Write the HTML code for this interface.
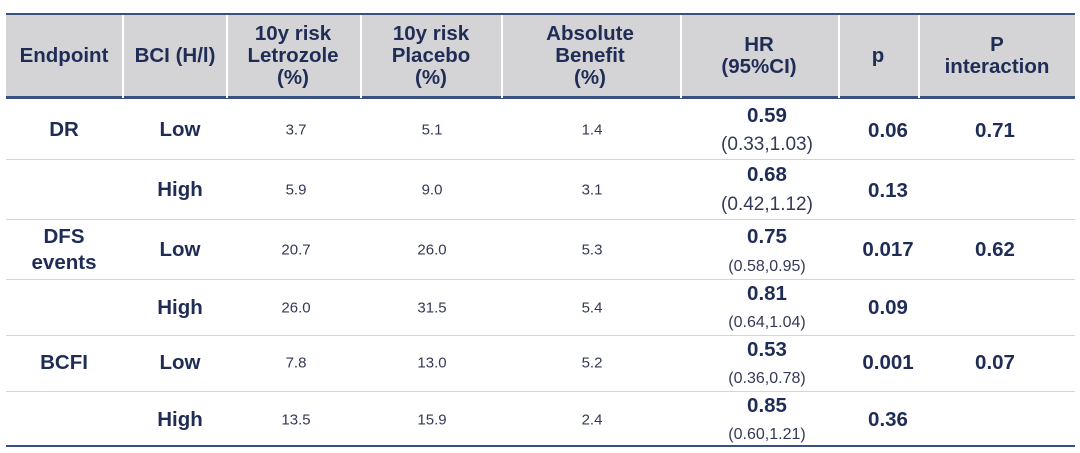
<!DOCTYPE html>
<html><head><meta charset="utf-8"><style>
body{margin:0;width:1080px;height:453px;background:#fff;font-family:"Liberation Sans",Arial,sans-serif;color:#1f2d56;position:relative;overflow:hidden}
.a{position:absolute;text-align:center;transform:translate(-50%,-50%);white-space:nowrap}
.h{font-weight:bold;font-size:20.5px;line-height:22px}
.b{font-weight:bold;font-size:20.5px}
.s{font-size:15px;color:#333a55}
.ci{font-size:19px;color:#333a55}
.ci2{font-size:16px;color:#333a55}
.hl{position:absolute;left:6px;width:1069px;height:0;border-top:1px solid #d0d4dc}
.vl{position:absolute;top:15px;height:83px;width:2px;background:#fff}
</style></head><body>
<div style="position:absolute;left:6px;top:13px;width:1069px;height:86px;background:#d4d4d6;border-top:2px solid #3a5080;border-bottom:3px solid #3a5080;box-sizing:border-box"></div>
<div class="vl" style="left:122px"></div><div class="vl" style="left:226px"></div><div class="vl" style="left:360px"></div><div class="vl" style="left:501px"></div><div class="vl" style="left:680px"></div><div class="vl" style="left:838px"></div><div class="vl" style="left:918px"></div>
<div class="a h" style="left:64px;top:56px">Endpoint</div>
<div class="a h" style="left:175px;top:56px">BCI (H/l)</div>
<div class="a h" style="left:293px;top:56px">10y risk<br>Letrozole<br>(%)</div>
<div class="a h" style="left:431px;top:56px">10y risk<br>Placebo<br>(%)</div>
<div class="a h" style="left:590px;top:56px">Absolute<br>Benefit<br>(%)</div>
<div class="a h" style="left:759px;top:56px">HR<br>(95%CI)</div>
<div class="a h" style="left:878px;top:56px">p</div>
<div class="a h" style="left:997px;top:56px">P<br>interaction</div>
<div class="hl" style="top:159px"></div><div class="hl" style="top:219px"></div><div class="hl" style="top:279px"></div><div class="hl" style="top:335px"></div><div class="hl" style="top:391px"></div>
<div style="position:absolute;left:6px;top:445px;width:1069px;height:2px;background:#3a5080"></div>

<div class="a b" style="left:64px;top:130px">DR</div>
<div class="a b" style="left:64px;top:250px;line-height:26px">DFS<br>events</div>
<div class="a b" style="left:64px;top:363px">BCFI</div>

<div class="a b" style="left:180px;top:130px">Low</div>
<div class="a b" style="left:180px;top:190px">High</div>
<div class="a b" style="left:180px;top:250px">Low</div>
<div class="a b" style="left:180px;top:308px">High</div>
<div class="a b" style="left:180px;top:363px">Low</div>
<div class="a b" style="left:180px;top:420px">High</div>

<div class="a s" style="left:296px;top:130px">3.7</div><div class="a s" style="left:432px;top:130px">5.1</div><div class="a s" style="left:592px;top:130px">1.4</div>
<div class="a s" style="left:296px;top:190px">5.9</div><div class="a s" style="left:432px;top:190px">9.0</div><div class="a s" style="left:592px;top:190px">3.1</div>
<div class="a s" style="left:296px;top:250px">20.7</div><div class="a s" style="left:432px;top:250px">26.0</div><div class="a s" style="left:592px;top:250px">5.3</div>
<div class="a s" style="left:296px;top:308px">26.0</div><div class="a s" style="left:432px;top:308px">31.5</div><div class="a s" style="left:592px;top:308px">5.4</div>
<div class="a s" style="left:296px;top:363px">7.8</div><div class="a s" style="left:432px;top:363px">13.0</div><div class="a s" style="left:592px;top:363px">5.2</div>
<div class="a s" style="left:296px;top:420px">13.5</div><div class="a s" style="left:432px;top:420px">15.9</div><div class="a s" style="left:592px;top:420px">2.4</div>

<div class="a b" style="left:767px;top:116px">0.59</div><div class="a ci" style="left:767px;top:145px">(0.33,1.03)</div>
<div class="a b" style="left:767px;top:175px">0.68</div><div class="a ci" style="left:767px;top:205px">(0.42,1.12)</div>
<div class="a b" style="left:767px;top:237px">0.75</div><div class="a ci2" style="left:767px;top:267px">(0.58,0.95)</div>
<div class="a b" style="left:767px;top:294px">0.81</div><div class="a ci2" style="left:767px;top:323px">(0.64,1.04)</div>
<div class="a b" style="left:767px;top:350px">0.53</div><div class="a ci2" style="left:767px;top:379px">(0.36,0.78)</div>
<div class="a b" style="left:767px;top:406px">0.85</div><div class="a ci2" style="left:767px;top:435px">(0.60,1.21)</div>

<div class="a b" style="left:888px;top:131px">0.06</div>
<div class="a b" style="left:888px;top:191px">0.13</div>
<div class="a b" style="left:888px;top:250px">0.017</div>
<div class="a b" style="left:888px;top:308px">0.09</div>
<div class="a b" style="left:888px;top:363px">0.001</div>
<div class="a b" style="left:888px;top:420px">0.36</div>

<div class="a b" style="left:995px;top:131px">0.71</div>
<div class="a b" style="left:995px;top:250px">0.62</div>
<div class="a b" style="left:995px;top:363px">0.07</div>
</body></html>
